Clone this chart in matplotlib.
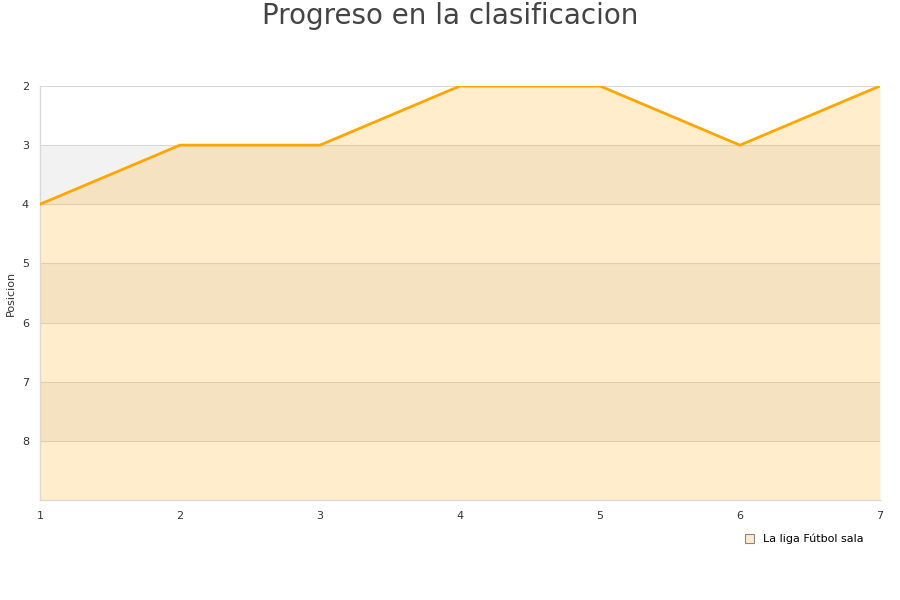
import matplotlib
matplotlib.use("Agg")
import matplotlib.pyplot as plt
from matplotlib.patches import Patch

jornadas = [1, 2, 3, 4, 5, 6, 7]
posiciones = [4, 3, 3, 2, 2, 3, 2]
y_ticks = [2, 3, 4, 5, 6, 7, 8]
serie = "La liga Fútbol sala"
titulo = "Progreso en la clasificacion"

fig = plt.figure(figsize=(9, 6), dpi=100)
ax = fig.add_axes([40/900, 100/600, 840/900, 414/600])

ax.set_xlim(1, 7)
ax.set_ylim(9, 2)

# alternating bands
for lo in [3, 5, 7]:
    ax.axhspan(lo, lo + 1, color="#f2f2f2", zorder=0, lw=0)

for t in y_ticks:
    ax.axhline(t, color="#d9d9d9", lw=0.8, zorder=1)

ax.fill_between(jornadas, posiciones, 9, color="#ffa500", alpha=0.2, lw=0, zorder=2)
ax.plot(jornadas, posiciones, color="#ffa500", lw=2, zorder=3)

ax.set_yticks(y_ticks)
ax.set_xticks(jornadas)
ax.tick_params(axis="both", length=0, labelsize=8, colors="#333333", pad=8)
for s in ["top", "right"]:
    ax.spines[s].set_visible(False)
for s in ["left", "bottom"]:
    ax.spines[s].set_color("#d9d9d9")
    ax.spines[s].set_linewidth(1)

fig.text(11/900, 1 - 293/600, "Posicion", rotation=90, ha="center", va="center",
         fontsize=8, color="#333333")

fig.text(0.5, 1 - 16/600, titulo, ha="center", va="center", fontsize=20, color="#444444")

h = Patch(facecolor="#ffebcc", edgecolor="#888888", lw=0.8)
fig.legend([h], [serie], loc="upper left", bbox_to_anchor=(735/900, 1 - 524/600),
           frameon=False, fontsize=8, handlelength=0.8, handleheight=0.8, handletextpad=0.8)

fig.savefig("out.png", dpi=100)
